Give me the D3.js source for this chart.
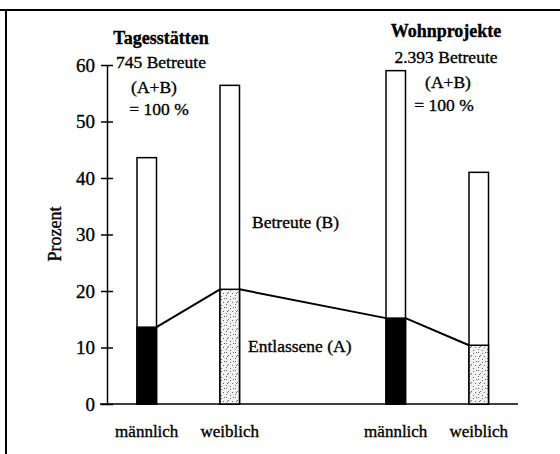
<!DOCTYPE html>
<html><head><meta charset="utf-8">
<script src="https://cdn.jsdelivr.net/npm/d3@7"></script>
<style>
html,body{margin:0;padding:0;background:#fff;}
svg{display:block;}
text{font-family:"Liberation Serif","Times New Roman",serif;fill:#000;stroke:#000;stroke-width:0.35px;}
</style></head>
<body>
<svg id="chart" width="560" height="454"></svg>
<script>
// ---- data ----
const slots = ["Tm", "Tw", "gap", "Wm", "Ww"];
const barSlots = ["Tm", "Tw", "Wm", "Ww"];
const barLabels = ["männlich", "weiblich", "männlich", "weiblich"];
const betreute = [43.6, 56.4, 59.0, 41.0];     // total bar height (A+B share, %)
const entlassene = [13.6, 20.3, 15.2, 10.4];   // A share, %
const fillType = ["solid", "dots", "solid", "dots"];
const yTicks = [0, 10, 20, 30, 40, 50, 60];
const groupTitles = ["Tagesstätten", "Wohnprojekte"];
const groupSubtitles = [["745 Betreute", "(A+B)", "= 100 %"], ["2.393 Betreute", "(A+B)", "= 100 %"]];
const yLabel = "Prozent";
const labelB = "Betreute (B)";
const labelA = "Entlassene (A)";

const svg = d3.select("#chart");

// frame
svg.append("line").attr("x1", 0).attr("x2", 560).attr("y1", 10).attr("y2", 10).attr("stroke", "#000").attr("stroke-width", 2);
svg.append("line").attr("x1", 6).attr("x2", 6).attr("y1", 10).attr("y2", 454).attr("stroke", "#000").attr("stroke-width", 2);

// stipple pattern
const defs = svg.append("defs");
const pat = defs.append("pattern").attr("id", "dots").attr("patternUnits", "userSpaceOnUse")
  .attr("width", 9).attr("height", 9);
pat.append("rect").attr("width", 9).attr("height", 9).attr("fill", "#f2f2f2");
[[1,1],[5,2],[3,4],[7,5],[1,7],[5,8],[8,1],[2,5]].forEach(p => {
  pat.append("rect").attr("x", p[0]).attr("y", p[1]).attr("width", 1).attr("height", 1).attr("fill", "#666");
});

const x = d3.scaleBand().domain(slots).range([137, 488.5]).paddingInner(0.765).paddingOuter(0);
const y = d3.scaleLinear().domain([0, 60]).range([404, 65]);

// y axis
const axisX = 107;
const yAxis = d3.axisLeft(y).tickValues(yTicks).tickSize(0).tickPadding(12);
const ag = svg.append("g").attr("transform", `translate(${axisX},0)`).call(yAxis);
ag.select(".domain").attr("stroke", "#000").attr("stroke-width", 1.5);
ag.selectAll(".tick text").style("font-size", "19px").attr("font-family", null);
ag.selectAll(".tick").append("line").attr("x1", -6).attr("x2", 6).attr("stroke", "#000").attr("stroke-width", 1.5);

// baseline
svg.append("line").attr("x1", 100).attr("x2", 518).attr("y1", y(0)).attr("y2", y(0)).attr("stroke", "#000").attr("stroke-width", 1.5);

// connecting line of A values
for (let i = 0; i < barSlots.length - 1; i++) {
  svg.append("line")
    .attr("x1", x(barSlots[i]) + x.bandwidth()).attr("y1", y(entlassene[i]))
    .attr("x2", x(barSlots[i + 1])).attr("y2", y(entlassene[i + 1]))
    .attr("stroke", "#000").attr("stroke-width", 2);
}

// bars
barSlots.forEach((s, i) => {
  const bx = x(s), bw = x.bandwidth();
  svg.append("rect").attr("x", bx).attr("y", y(betreute[i])).attr("width", bw)
    .attr("height", y(0) - y(betreute[i])).attr("fill", "#fff").attr("stroke", "#000").attr("stroke-width", 1.5);
  svg.append("rect").attr("x", bx).attr("y", y(entlassene[i])).attr("width", bw)
    .attr("height", y(0) - y(entlassene[i]))
    .attr("fill", fillType[i] === "solid" ? "#000" : "url(#dots)")
    .attr("stroke", "#000").attr("stroke-width", 1.5);
  svg.append("text").attr("x", bx + bw / 2).attr("y", 437).attr("text-anchor", "middle")
    .style("font-size", "17px").text(barLabels[i]);
});

// group titles
const titleX = [161, 446];
const titleY = [44, 37];
const subY = [[68, 93, 115], [63, 88, 111]];
const subDx = [[0, -7, -2], [0, 2, -2]];
groupTitles.forEach((t, g) => {
  svg.append("text").attr("x", titleX[g]).attr("y", titleY[g]).attr("text-anchor", "middle")
    .style("font-size", "18px").style("font-weight", "bold").text(t);
  groupSubtitles[g].forEach((s, k) => {
    svg.append("text").attr("x", titleX[g] + subDx[g][k]).attr("y", subY[g][k]).attr("text-anchor", "middle")
      .style("font-size", "17.5px").text(s);
  });
});

// inline labels
svg.append("text").attr("x", 252).attr("y", 228).style("font-size", "17.5px").text(labelB);
svg.append("text").attr("x", 248).attr("y", 352).style("font-size", "17.5px").text(labelA);

// y label
svg.append("text").attr("transform", "translate(61,234) rotate(-90)").attr("text-anchor", "middle")
  .style("font-size", "18px").text(yLabel);
</script>
</body></html>
